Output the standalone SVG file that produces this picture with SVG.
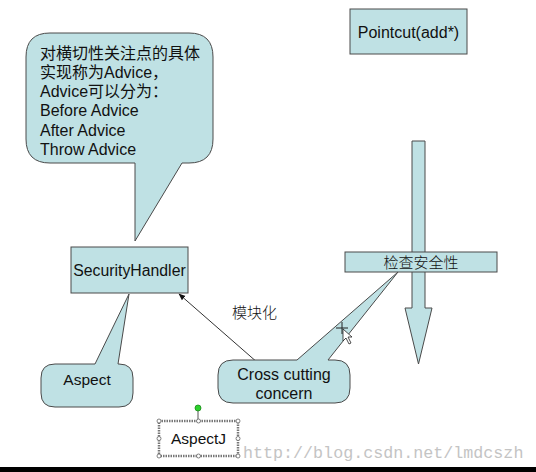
<svg xmlns="http://www.w3.org/2000/svg" width="536" height="472" viewBox="0 0 536 472">
<defs>
<style>
.shape{fill:#bfe1e4;stroke:#4a4a4a;stroke-width:1}
.t{font-family:"Liberation Sans",Arial,"Noto Sans CJK SC",sans-serif;fill:#111}
.cjk{font-family:"Noto Sans CJK SC","Liberation Sans",sans-serif;fill:#111;font-weight:300}
.h{fill:#fff;stroke:#666;stroke-width:0.8}
</style>
<marker id="ah" viewBox="0 0 10 10" refX="9" refY="5" markerWidth="7" markerHeight="7" orient="auto" markerUnits="userSpaceOnUse">
<path d="M0,1 L10,5 L0,9 Z" fill="#111"/>
</marker>
</defs>
<rect x="0" y="0" width="536" height="472" fill="#fff"/>

<g id="connectors">
<line x1="258" y1="363" x2="179" y2="294" stroke="#333" stroke-width="1" marker-end="url(#ah)"/>
</g>

<g id="advice-callout">
<path class="shape" d="M50,33 H189 Q213,33 213,57 V139 Q213,163 189,163 H182 L135,241 V163 H50 Q26,163 26,139 V57 Q26,33 50,33 Z"/>
<text class="t" font-size="16" x="40" y="59">对横切性关注点的具体</text>
<text class="t" font-size="16" x="40" y="78">实现称为Advice，</text>
<text class="t" font-size="16" x="40" y="97">Advice可以分为：</text>
<text class="t" font-size="16" x="40" y="116">Before Advice</text>
<text class="t" font-size="16" x="40" y="135.5">After Advice</text>
<text class="t" font-size="16" x="40" y="155">Throw Advice</text>
</g>

<g id="pointcut">
<rect class="shape" x="350" y="9" width="117" height="45"/>
<text class="t" font-size="16" x="408.5" y="38" text-anchor="middle">Pointcut(add*)</text>
</g>

<g id="flow-arrow">
<path class="shape" d="M412,141 H425 V308 H432 L418.5,364 L405,308 H412 Z"/>
</g>

<g id="check-security">
<rect class="shape" x="345" y="252" width="152" height="20"/>
<text class="cjk" font-size="15" x="421" y="268" text-anchor="middle">检查安全性</text>
</g>

<g id="security-handler">
<rect class="shape" x="71" y="247" width="117" height="46"/>
<text class="t" font-size="15.8" x="129.5" y="276" text-anchor="middle">SecurityHandler</text>
</g>

<g id="aspect-callout">
<path class="shape" d="M55,364 H95 L129,294 L118,364 H119 Q133,364 133,378 V393 Q133,407 119,407 H55 Q41,407 41,393 V378 Q41,364 55,364 Z"/>
<text class="t" font-size="15.5" x="87" y="385" text-anchor="middle">Aspect</text>
</g>

<g id="cross-cutting-callout">
<path class="shape" d="M233,360 H297 L398,272 L328,360 H335 Q350,360 350,375 V388 Q350,403 335,403 H233 Q218,403 218,388 V375 Q218,360 233,360 Z"/>
<text class="t" font-size="16" x="284" y="380" text-anchor="middle">Cross cutting</text>
<text class="t" font-size="16" x="284" y="399" text-anchor="middle">concern</text>
</g>

<g id="label-modularize">
<text class="cjk" font-size="15" x="232" y="318">模块化</text>
</g>

<g id="cursor">
<path d="M342,322 V334 M336,328 H348" stroke="#222" stroke-width="1"/>
<path d="M343,329 L343,341 L346,338 L349,344 L351,343 L348,337 L352,337 Z" fill="#fff" stroke="#222" stroke-width="0.8"/>
</g>

<g id="aspectj">
<line x1="198" y1="410" x2="198" y2="421" stroke="#555" stroke-width="1"/>
<circle cx="198" cy="408" r="3" fill="#2bd12b" stroke="#1a8a1a" stroke-width="0.8"/>
<rect x="159" y="421" width="79" height="35" fill="#fff" stroke="#777" stroke-width="2.5" stroke-dasharray="1.5 1"/>
<rect x="161" y="423" width="75" height="31" fill="#fff" stroke="none"/>
<circle class="h" cx="159" cy="421" r="2"/>
<circle class="h" cx="198.5" cy="421" r="2"/>
<circle class="h" cx="238" cy="421" r="2"/>
<circle class="h" cx="159" cy="438.5" r="2"/>
<circle class="h" cx="238" cy="438.5" r="2"/>
<circle class="h" cx="159" cy="456" r="2"/>
<circle class="h" cx="198.5" cy="456" r="2"/>
<circle class="h" cx="238" cy="456" r="2"/>
<text class="t" font-size="15.5" x="198.5" y="444" text-anchor="middle">AspectJ</text>
</g>

<text font-family="'Liberation Mono','DejaVu Sans Mono',monospace" font-size="16.7" x="243" y="458" fill="#c4c4c4">http://blog.csdn.net/lmdcszh</text>

<rect x="0" y="467" width="536" height="5" fill="#000"/>
</svg>
